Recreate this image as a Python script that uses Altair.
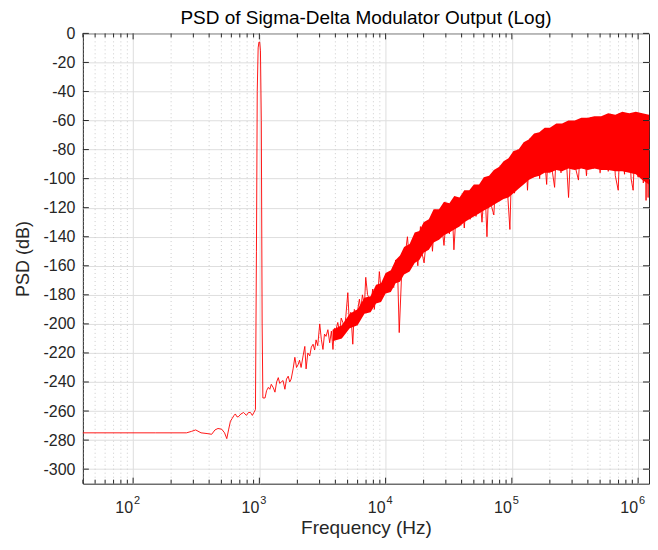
import altair as alt
import pandas as pd

# ---- trace (frequency in Hz, PSD in dB) ----
line_freq = [40, 150, 265, 290, 313, 345, 385, 419, 445, 470, 503, 530, 552, 570, 590, 610, 630, 645, 665, 680,
             715, 750, 790, 820, 850, 880, 905, 931, 948, 962, 978, 992, 1006, 1020, 1036, 1052, 1066, 1109, 1140,
             1178, 1210, 1243, 1290, 1329, 1370, 1412, 1450, 1490, 1540, 1593, 1640, 1692, 1740, 1786, 1850, 1910,
             1970, 2028, 2080, 2141, 2220, 2291, 2345, 2420, 2508, 2580, 2663, 2740, 2812, 2900, 3007, 3100, 3190,
             3280, 3373, 3490, 3607, 3720, 3828, 3930, 4040, 4180, 4320, 4450, 4586, 4700, 4840, 5019, 5175, 5300,
             5495, 5650, 5803, 6022, 6200, 6358, 6550, 6800, 6960, 7200, 7440, 7620, 7900, 8150, 8400, 8650, 8920,
             9300, 9770, 10300, 10950, 11600, 12000, 12420, 12820, 13400, 14030, 14890, 15600, 16320, 17200, 18000,
             18870, 19500, 20180, 21300, 22610, 23500, 24770, 26000, 27500, 29000, 30500, 32000, 33500, 34760,
             36500, 38500, 40000, 42000, 44000, 46700, 49000, 52000, 55000, 58000, 61000, 63500, 66000, 69000,
             72000, 75000, 78000, 82000, 86000, 90000, 93000, 96500, 100000, 105000, 112000, 120000, 128000,
             133000, 140000, 148000, 158000, 166000, 175000, 188700, 197000, 210000, 218100, 230000, 245000,
             260000, 281300, 300000, 320000, 337000, 360000, 389900, 420000, 445000, 467100, 500000, 540000,
             580000, 620000, 660000, 696000, 730000, 780000, 830000, 880000, 914000, 960000, 1000000, 1050000,
             1100000, 1140000, 1156000, 1180000, 1200000, 1220000]
line_psd = [-275, -275, -275, -274, -273, -275, -275.5, -276, -273, -272, -272.5, -275, -279, -273, -267, -265, -263,
            -262, -264, -264, -262, -261, -263, -261, -261, -263, -261, -259, -150, -40, -10, -6, -6, -12, -60, -200,
            -251, -251, -246, -243.7, -245, -241.6, -244, -247, -240, -237, -241, -240, -239, -245, -238, -236,
            -240, -238, -231, -223, -230, -228, -225, -230, -222, -215.5, -231, -220, -222, -216, -214, -218, -211,
            -215, -200, -211, -217.6, -207, -208.6, -204, -213, -205, -217.6, -203, -204, -199, -206, -196, -199,
            -205, -195, -178.5, -202, -192, -214, -190, -192, -190, -183, -190, -180, -186.7, -168, -180, -183,
            -188, -176, -190, -175, -183, -164, -180, -174, -168, -167.5, -175, -156, -160.6, -206, -165, -158,
            -140, -160, -151, -145, -160, -133, -152, -158, -136, -130.6, -150, -121.5, -140, -128, -146, -122,
            -138, -116, -149, -118, -132, -112, -134, -110, -128, -108, -126, -105, -130, -103, -140, -100, -119,
            -125, -96, -115, -92, -112, -89, -113, -135, -85, -110, -80, -104, -75, -108, -72, -99, -70, -100,
            -68, -104, -66, -96, -106, -63, -96, -62, -113, -61, -93, -101, -59, -98, -58, -93, -58, -96, -57,
            -95, -56, -98, -108, -55, -97, -55, -100, -108, -55, -99, -55, -103, -56, -115, -57, -113, -60]

# ---- dense noise band (upper / lower envelope) ----
band_freq = [3800, 4500, 5200, 6000, 6800, 7600, 8400, 9200, 10000, 11000, 12000, 13000, 14000, 15500, 17000,
             18500, 20000, 22000, 24000, 26500, 29000, 32000, 35000, 38500, 42000, 46000, 50000, 55000, 60000,
             66000, 72000, 79000, 86000, 94000, 103000, 113000, 124000, 136000, 150000, 165000, 182000, 200000,
             225000, 250000, 280000, 315000, 355000, 400000, 450000, 510000, 580000, 660000, 750000, 850000,
             960000, 1080000, 1220000]
band_upper = [-204, -201, -193, -190, -182, -181, -173, -172, -165, -163, -156, -153, -147, -145, -137, -136, -130,
              -128, -121, -121, -116, -117, -112, -113, -108, -108, -104, -104, -99, -98, -94, -92, -88, -86, -81,
              -80, -75, -73, -69, -68, -65, -65, -62, -62, -60, -60, -58, -58, -57, -57, -55, -56, -54, -55, -54,
              -55, -56]
band_lower = [-212, -210, -203, -201, -193, -192, -186, -185, -179, -178, -172, -171, -166, -164, -158, -156, -151,
              -149, -144, -142, -139, -137, -135, -133, -130, -128, -126, -124, -122, -120, -118, -116, -114, -113,
              -110, -107, -104, -101, -99, -98, -96, -96, -94, -95, -93, -94, -93, -94, -93, -94, -94, -95, -95,
              -96, -97, -101, -104]

# ---- axes ----
x_major = [100, 1000, 10000, 100000, 1000000]
x_exps = ["2", "3", "4", "5", "6"]
x_minor = [m * 10 ** e for e in range(1, 7) for m in range(2, 10) if 40 <= m * 10 ** e <= 1220000]
y_ticks = list(range(-300, 1, 20))

W, H = 567, 451
FONT = "Liberation Sans"
TXT = "#262626"

df_line = pd.DataFrame({"f": line_freq, "p": line_psd})
df_band = pd.DataFrame({"f": band_freq, "hi": band_upper, "lo": band_lower})
df_major = pd.DataFrame({"f": x_major, "e": x_exps})
df_minor = pd.DataFrame({"f": x_minor})
df_y = pd.DataFrame({"y": y_ticks})

xs = alt.Scale(type="log", domain=[40, 1220000], nice=False)
ys = alt.Scale(domain=[-310, 0], nice=False)

x_axis = alt.Axis(values=x_major, grid=True, labels=False, ticks=False, domain=False,
                  title="Frequency (Hz)", titlePadding=35, titleFontSize=19)
y_axis = alt.Axis(values=y_ticks, grid=True, ticks=False, domain=False, labelOverlap=False,
                  labelExpr="'' + datum.value", labelPadding=8, title="PSD (dB)", titlePadding=10)


def X():
    return alt.X("f:Q", scale=xs, axis=x_axis)


def Y(field):
    return alt.Y(f"{field}:Q", scale=ys, axis=y_axis)


minor_grid = alt.Chart(df_minor).mark_rule(color="#cccccc", strokeDash=[1, 3], strokeWidth=1).encode(
    x=X(), y=alt.value(0), y2=alt.value(H))

y_grid = alt.Chart(df_y).mark_rule(opacity=0).encode(
    y=Y("y"), x=alt.value(0), x2=alt.value(W))

band = alt.Chart(df_band).mark_area(color="#ff0000", opacity=1).encode(
    x=X(), y=Y("hi"), y2="lo:Q")

line = alt.Chart(df_line).mark_line(color="#ff0000", strokeWidth=0.9).encode(
    x=X(), y=Y("p"))

tick_bot_major = alt.Chart(df_major).mark_rule(color=TXT).encode(
    x=X(), y=alt.value(H), y2=alt.value(H - 6))
tick_top_major = alt.Chart(df_major).mark_rule(color=TXT).encode(
    x=X(), y=alt.value(0), y2=alt.value(6))
tick_bot_minor = alt.Chart(df_minor).mark_rule(color=TXT).encode(
    x=X(), y=alt.value(H), y2=alt.value(H - 4))
tick_top_minor = alt.Chart(df_minor).mark_rule(color=TXT).encode(
    x=X(), y=alt.value(0), y2=alt.value(4))
tick_left = alt.Chart(df_y).mark_rule(color=TXT).encode(
    y=Y("y"), x=alt.value(0), x2=alt.value(6))
tick_right = alt.Chart(df_y).mark_rule(color=TXT).encode(
    y=Y("y"), x=alt.value(W), x2=alt.value(W - 6))

lab_base = alt.Chart(df_major).mark_text(text="10", align="right", baseline="middle", font=FONT,
                                         fontSize=16, color=TXT).encode(
    x=X(), y=alt.value(H + 24))
lab_exp = alt.Chart(df_major).mark_text(align="left", baseline="middle", font=FONT, fontSize=11,
                                        color=TXT, dx=1).encode(
    x=X(), y=alt.value(H + 17), text="e:N")

chart = alt.layer(minor_grid, y_grid, band, line, tick_bot_major, tick_top_major, tick_bot_minor,
                  tick_top_minor, tick_left, tick_right, lab_base, lab_exp).properties(
    width=W, height=H,
    title=alt.TitleParams("PSD of Sigma-Delta Modulator Output (Log)", font=FONT, fontSize=19,
                          fontWeight="normal", color="#000000", offset=-3),
    padding={"left": 75, "top": 25, "right": 1, "bottom": 58},
    autosize="none",
    background="white",
).configure_axis(
    gridColor="#dedede", tickSize=0, labelFont=FONT, labelFontSize=16, labelColor=TXT,
    titleFont=FONT, titleFontSize=18, titleFontWeight="normal", titleColor=TXT, labelOverlap=False,
).configure_view(stroke="#262626", strokeWidth=1)

chart.save("out.html", embed_options={"renderer": "svg", "actions": False})
